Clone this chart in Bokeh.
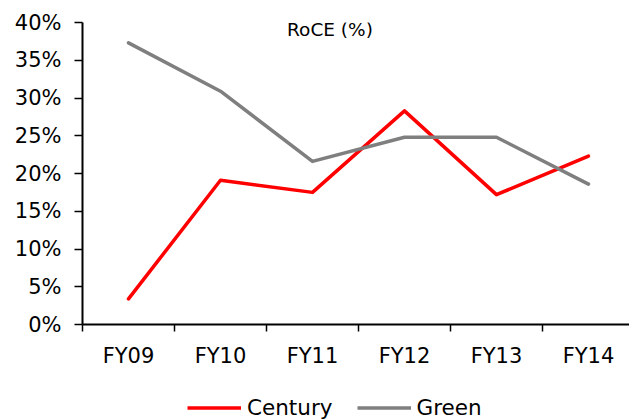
from bokeh.plotting import figure
from bokeh.layouts import column
from bokeh.models import (ColumnDataSource, FixedTicker, PrintfTickFormatter,
                          Legend, LegendItem, Label, Range1d)
from bokeh.embed import file_html
from bokeh.resources import INLINE

categories = ["FY09", "FY10", "FY11", "FY12", "FY13", "FY14"]
century = [3.4, 19.1, 17.5, 28.3, 17.2, 22.3]
green = [37.3, 30.9, 21.6, 24.8, 24.8, 18.6]
y_ticks = [0, 5, 10, 15, 20, 25, 30, 35, 40]
series_names = ["Century", "Green"]
series_colors = ["#FF0000", "#7F7F7F"]

FONT = "DejaVu Sans"

xs = list(range(len(categories)))
src = ColumnDataSource(dict(x=xs, century=century, green=green))

p = figure(width=629, height=389, output_backend="svg", toolbar_location=None,
           x_range=Range1d(-0.5, 5.446), y_range=Range1d(0, 40),
           min_border_left=82, min_border_right=0, min_border_top=22,
           min_border_bottom=65)
p.outline_line_color = None
p.xgrid.visible = False
p.ygrid.visible = False
p.background_fill_color = "white"
p.border_fill_color = "white"

for key, color in zip(["century", "green"], series_colors):
    p.line("x", key, source=src, line_color=color, line_width=3.5,
           line_join="round", line_cap="round")

# x axis
xa = p.xaxis[0]
xa.ticker = FixedTicker(ticks=xs, minor_ticks=[i - 0.5 for i in xs])
xa.major_label_overrides = {i: c for i, c in zip(xs, categories)}
xa.major_tick_line_color = None
xa.major_tick_out = 0
xa.major_tick_in = 0
xa.minor_tick_out = 7
xa.minor_tick_in = 0
xa.minor_tick_line_color = "black"
xa.minor_tick_line_width = 1.5
xa.axis_line_color = "black"
xa.axis_line_width = 2
xa.major_label_text_font = FONT
xa.major_label_text_font_size = "21px"
xa.major_label_text_color = "black"
xa.major_label_standoff = 12

# y axis
ya = p.yaxis[0]
ya.ticker = FixedTicker(ticks=y_ticks)
ya.formatter = PrintfTickFormatter(format="%d%%")
ya.minor_tick_line_color = None
ya.major_tick_out = 8
ya.major_tick_in = 0
ya.major_tick_line_color = "black"
ya.major_tick_line_width = 1.5
ya.axis_line_color = "black"
ya.axis_line_width = 2
ya.major_label_text_font = FONT
ya.major_label_text_font_size = "21px"
ya.major_label_text_color = "black"
ya.major_label_standoff = 13

title = Label(x=2.19, y=39.1, text="RoCE (%)", text_align="center",
              text_baseline="middle", text_font=FONT, text_font_size="18.5px",
              text_color="black")
p.add_layout(title)

# legend strip below the chart (its renderers are hidden; the legend only
# uses them for the key glyphs)
lg = figure(width=629, height=30, output_backend="svg", toolbar_location=None,
            x_range=Range1d(-0.5, 5.446), y_range=Range1d(0, 40),
            min_border_left=0, min_border_right=0, min_border_top=0,
            min_border_bottom=0)
lg.axis.visible = False
lg.grid.visible = False
lg.outline_line_color = None
lg.background_fill_color = "white"
lg.border_fill_color = "white"
items = []
for key, name, color in zip(["century", "green"], series_names, series_colors):
    r = lg.line("x", key, source=src, line_color=color, line_width=3.5,
                visible=False)
    items.append(LegendItem(label=name, renderers=[r]))
legend = Legend(items=items, location=(105, -1), orientation="horizontal",
                click_policy="none",
                label_text_font=FONT, label_text_font_size="21.5px",
                label_text_color="black", glyph_width=54, glyph_height=25,
                label_height=25, label_standoff=6, spacing=24, padding=0,
                margin=0, background_fill_alpha=0, border_line_color=None)
lg.add_layout(legend, "center")

layout = column(p, lg, spacing=0)
open("out.html", "w").write(file_html(layout, INLINE))
